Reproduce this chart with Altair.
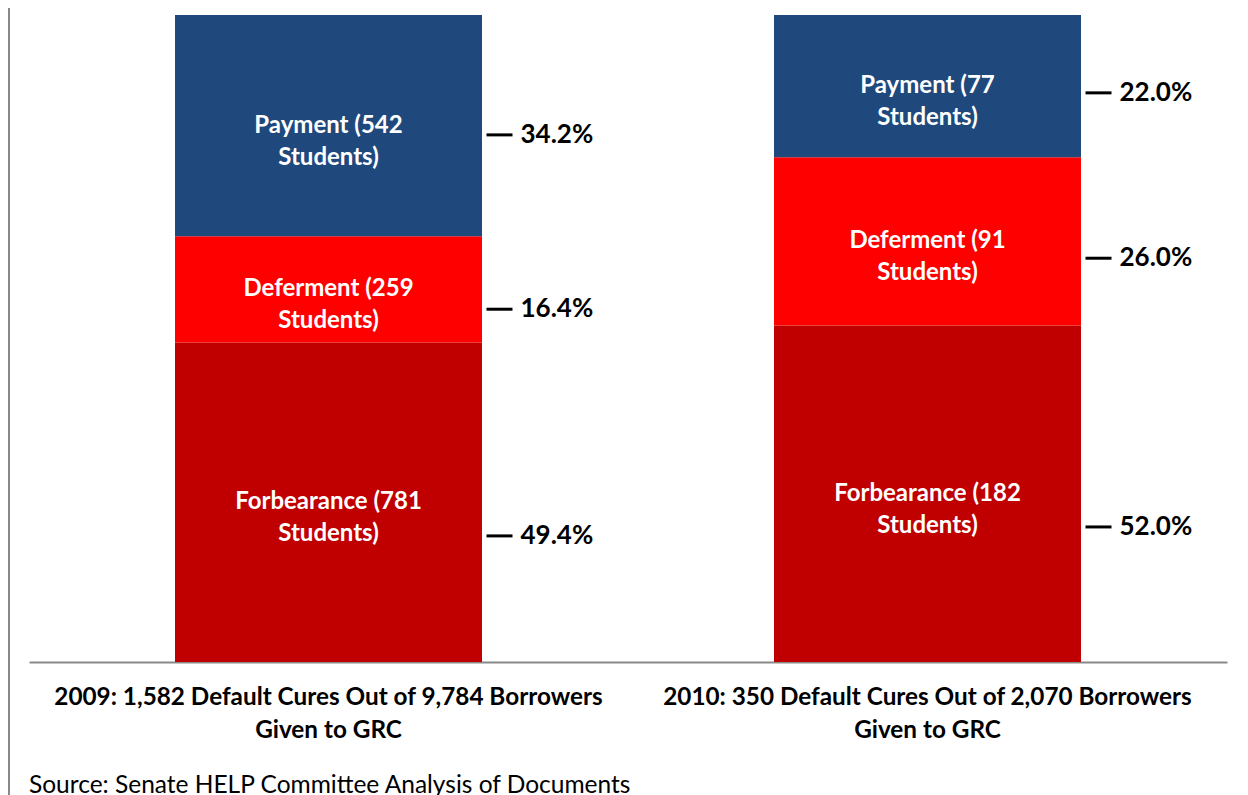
import altair as alt
import pandas as pd

groups = [
    "2009: 1,582 Default Cures Out of 9,784 Borrowers|Given to GRC",
    "2010: 350 Default Cures Out of 2,070 Borrowers|Given to GRC",
]
categories = ["Forbearance", "Deferment", "Payment"]
students_2009 = [781, 259, 542]
students_2010 = [182, 91, 77]
pct_2009 = [49.4, 16.4, 34.2]
pct_2010 = [52.0, 26.0, 22.0]
colors = ["#C00000", "#FF0000", "#1F497D"]
source = ["Source: Senate HELP Committee Analysis of Documents"]

rows = []
for g, studs, pcts in [(groups[0], students_2009, pct_2009), (groups[1], students_2010, pct_2010)]:
    for i, (c, s, p) in enumerate(zip(categories, studs, pcts)):
        rows.append(dict(group=g, cat=c, order=i, students=s, pct=p,
                         inner=f"{c} ({s}\nStudents)", pctlabel=f"{p:.1f}%"))
df = pd.DataFrame(rows)

FONT = "Lato"

base = alt.Chart(df).transform_stack(
    stack="pct", groupby=["group"], as_=["y0", "y1"],
    sort=[alt.SortField("order", order="ascending")]
).transform_calculate(mid="(datum.y0 + datum.y1) / 2")

x = alt.X(
    "group:N", sort=groups,
    scale=alt.Scale(paddingInner=0.4875, paddingOuter=0.24375),
    axis=alt.Axis(
        title=None, labelExpr="split(datum.label, '|')", labelFont=FONT,
        labelFontWeight="bold", labelFontSize=24.3, labelLineHeight=33,
        labelPadding=23, labelLimit=900, ticks=False, labelAngle=0,
        domainColor="#898989", domainWidth=2, labelColor="black",
    ),
)

bars = base.mark_bar().encode(
    x=x,
    y=alt.Y("y0:Q", scale=alt.Scale(domain=[0, 100]), axis=None),
    y2="y1:Q",
    color=alt.Color("cat:N", scale=alt.Scale(domain=categories, range=colors), legend=None),
)

inner = base.mark_text(
    lineBreak="\n", font=FONT, fontWeight="bold", fontSize=24, color="white", lineHeight=32
).encode(
    x=x,
    y=alt.Y("mid:Q", scale=alt.Scale(domain=[0, 100]), axis=None),
    text="inner:N",
)

label_y = alt.Y("mid:Q", scale=alt.Scale(domain=[6.4, 100.3]), axis=None)

pcts = base.mark_text(
    align="left", dx=192, font=FONT, fontWeight="bold", fontSize=26, color="black", clip=False
).encode(x=x, y=label_y, text="pctlabel:N")

dashes = base.mark_rule(
    color="black", strokeWidth=3, xOffset=158, x2Offset=184, clip=False
).encode(x=x, x2="group:N", y=label_y)

border = alt.Chart(df).mark_rule(color="#898989", strokeWidth=2, clip=False).encode(
    x=alt.value(-20), y=alt.value(-7), y2=alt.value(785)
)

src = alt.Chart(pd.DataFrame({"t": source})).mark_text(
    align="left", baseline="middle", font=FONT, fontSize=24.5, color="black", clip=False
).encode(x=alt.value(0), y=alt.value(771), text="t:N")

chart = alt.layer(border, bars, inner, dashes, pcts, src).resolve_scale(y="independent").properties(
    width=1198, height=647,
    padding={"left": 21, "top": 7, "right": 13, "bottom": 134},
    autosize=alt.AutoSizeParams(type="none"),
).configure_view(stroke=None)

chart.save("out.html", embed_options={"renderer": "svg", "actions": False})
